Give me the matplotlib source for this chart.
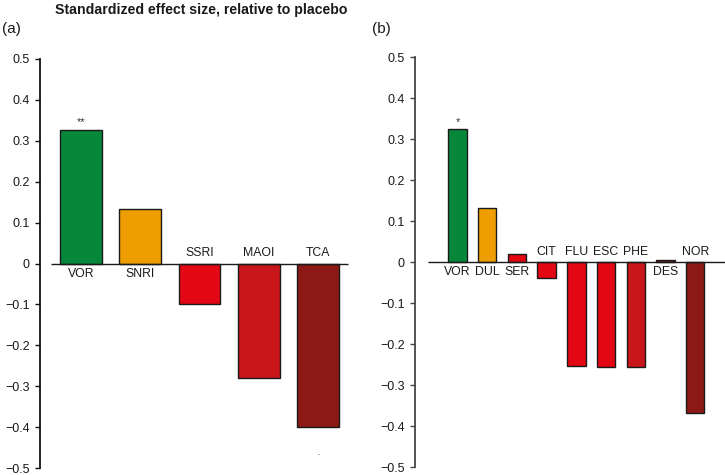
import matplotlib
matplotlib.use('Agg')
import matplotlib.pyplot as plt

plt.rcParams['font.family'] = ['Liberation Sans', 'DejaVu Sans']

GREEN = '#07873a'
ORANGE = '#ee9e00'
RED = '#e30613'
MID_RED = '#c8161b'
DARK_RED = '#8c1915'

# panel (a): drug classes
classes = ['VOR', 'SNRI', 'SSRI', 'MAOI', 'TCA']
class_effects = [0.326, 0.133, -0.098, -0.279, -0.400]
class_colors = [GREEN, ORANGE, RED, MID_RED, DARK_RED]
class_marks = ['**', '', '', '', '\u00b7']

# panel (b): single drugs
drugs = ['VOR', 'DUL', 'SER', 'CIT', 'FLU', 'ESC', 'PHE', 'DES', 'NOR']
drug_effects = [0.324, 0.133, 0.021, -0.038, -0.253, -0.255, -0.256, 0.006, -0.367]
drug_colors = [GREEN, ORANGE, RED, RED, RED, RED, MID_RED, DARK_RED, DARK_RED]
drug_marks = ['*', '', '', '', '', '', '', '', '']

yticks = [-0.5, -0.4, -0.3, -0.2, -0.1, 0, 0.1, 0.2, 0.3, 0.4, 0.5]
ytick_labels = ['\u22120.5', '\u22120.4', '\u22120.3', '\u22120.2', '\u22120.1',
                '0', '0.1', '0.2', '0.3', '0.4', '0.5']

W, H = 725, 475
fig = plt.figure(figsize=(W / 100, H / 100), dpi=100)


def px_axes(left, right, top, bottom):
    return fig.add_axes([left / W, 1 - bottom / H, (right - left) / W, (bottom - top) / H])


def panel(ax, names, values, colors, marks, width, xlim, zero_from, zero_to, spine_col):
    x = list(range(len(names)))
    ax.bar(x, values, width=width, color=colors, edgecolor='#1a1a1a', linewidth=1.0, zorder=2)
    ax.plot([zero_from, zero_to], [0, 0], color='#1a1a1a', lw=1.0, zorder=3,
            solid_capstyle='butt', clip_on=False)
    for i, (n, v, m) in enumerate(zip(names, values, marks)):
        if v >= 0:
            ax.annotate(n, (i, 0), xytext=(0, -3), textcoords='offset points',
                        ha='center', va='top', fontsize=8.8, color='#1a1a1a')
        else:
            ax.annotate(n, (i, 0), xytext=(0, 3), textcoords='offset points',
                        ha='center', va='bottom', fontsize=8.8, color='#1a1a1a')
        if m == '\u00b7':
            ax.annotate(m, (i, v), xytext=(0, -20), textcoords='offset points',
                        ha='center', va='center', fontsize=8, color='#333333')
        elif m:
            ax.annotate(m, (i, v), xytext=(0, 2), textcoords='offset points',
                        ha='center', va='bottom', fontsize=8, color='#333333')
    ax.set_xlim(*xlim)
    ax.set_ylim(-0.51, 0.51)
    ax.set_yticks(yticks)
    ax.set_yticklabels(ytick_labels, fontsize=9, color='#1a1a1a')
    ax.set_xticks([])
    for s in ['top', 'right', 'bottom']:
        ax.spines[s].set_visible(False)
    ax.spines['left'].set_bounds(-0.5, 0.5)
    ax.spines['left'].set_color(spine_col)
    ax.spines['left'].set_linewidth(1.3)
    ax.tick_params(axis='y', length=3.5, width=1.0, pad=4, color=spine_col)
    ax.patch.set_visible(False)


ax1 = px_axes(40, 352, 54.9, 472.1)
panel(ax1, classes, class_effects, class_colors, class_marks, 0.70,
      (-0.69, 4.57), -0.5, 4.5, '#111111')

ax2 = px_axes(415, 725, 53.2, 471.4)
panel(ax2, drugs, drug_effects, drug_colors, drug_marks, 0.62,
      (-1.43, 9.0), -1.0, 9.0, '#444444')

fig.text(201 / W, 1 - 10 / H, 'Standardized effect size, relative to placebo',
         ha='center', va='center', fontsize=10.2, fontweight='bold', color='#1a1a1a')
fig.text(2 / W, 1 - 29 / H, '(a)', ha='left', va='center', fontsize=11, color='#1a1a1a')
fig.text(372 / W, 1 - 29 / H, '(b)', ha='left', va='center', fontsize=11, color='#1a1a1a')

fig.savefig('out.png', dpi=100)
